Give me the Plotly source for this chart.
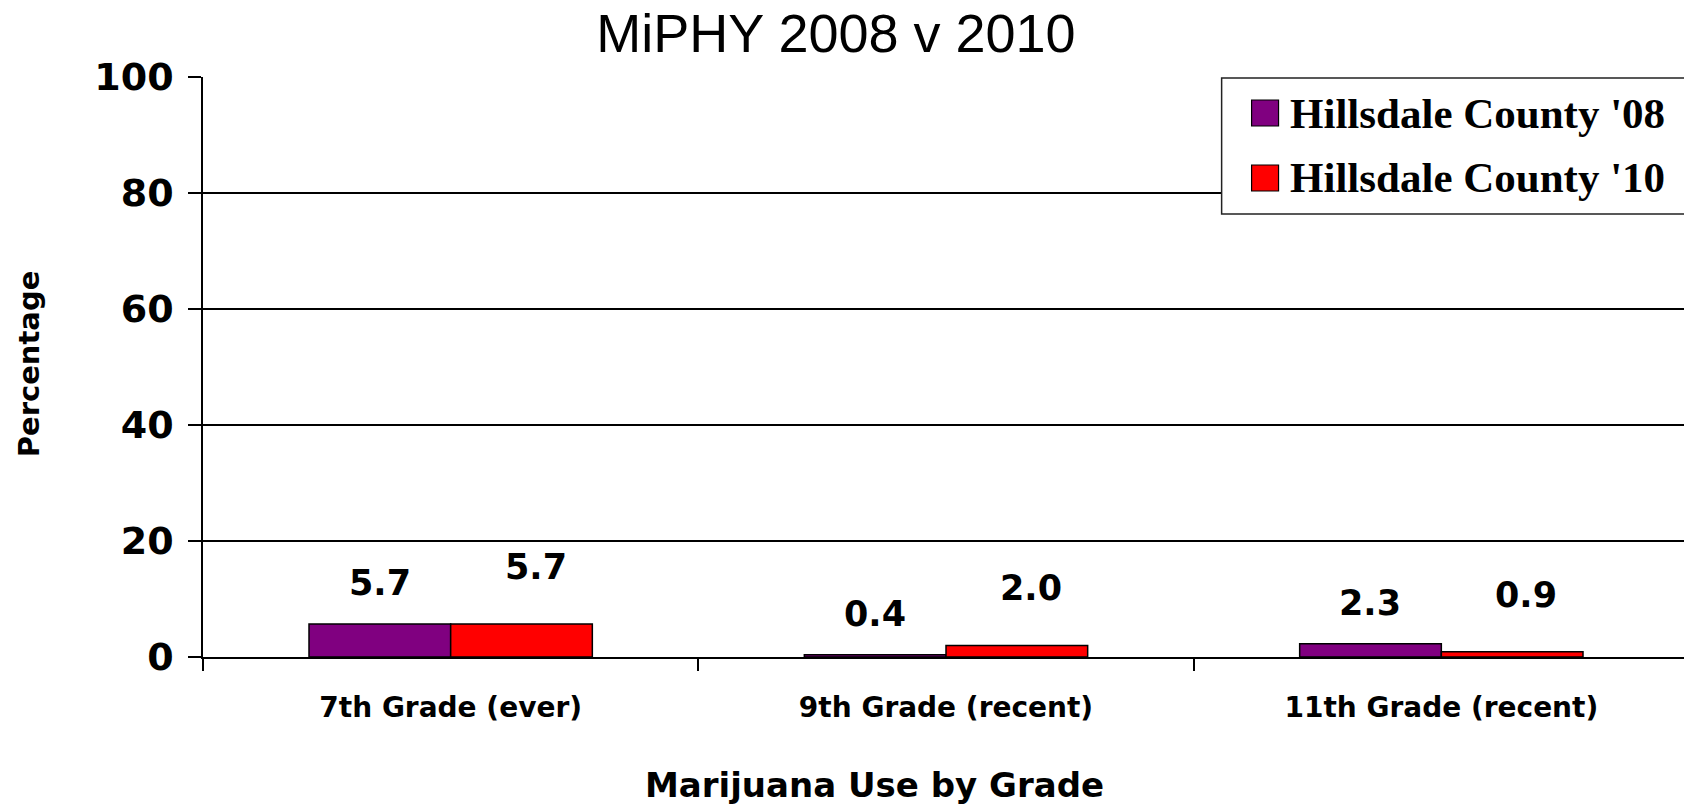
import plotly.graph_objects as go

categories = ["7th Grade (ever)", "9th Grade (recent)", "11th Grade (recent)"]
series_names = ["Hillsdale County '08", "Hillsdale County '10"]
values_08 = [5.7, 0.4, 2.3]
values_10 = [5.7, 2.0, 0.9]
colors = ["#800080", "#FF0000"]
y_ticks = [0, 20, 40, 60, 80, 100]

# page has an 8px body margin; figure fills the rest of the window
OFF = 8
W, H = 1692 - OFF, 805 - OFF
ML = 203 - OFF
MR = W - (1691 - OFF)
MT = 77 - OFF
MB = H - (657 - OFF)
PW = W - ML - MR
PH = H - MT - MB


def fx(p):  # page px -> paper x
    return (p - OFF - ML) / PW


def fy(p):  # page px -> paper y
    return 1 - (p - OFF - MT) / PH


fig = go.Figure()
for name, vals, col in zip(series_names, [values_08, values_10], colors):
    fig.add_trace(go.Bar(
        x=categories, y=vals, name=name,
        marker=dict(color=col, line=dict(color="black", width=1.5)),
        showlegend=False, hoverinfo="x+y",
    ))

BOLD = "DejaVu Sans"
cat_w = PW / 3
bar_w = cat_w * 0.572 / 2

annotations = []
for i, c in enumerate(categories):
    annotations.append(dict(
        x=c, y=values_08[i], xref="x", yref="y", text=f"{values_08[i]:.1f}",
        showarrow=False, xshift=-bar_w / 2, yshift=41, yanchor="middle",
        font=dict(family=BOLD, size=35, color="black", weight="bold")))
    annotations.append(dict(
        x=c, y=values_10[i], xref="x", yref="y", text=f"{values_10[i]:.1f}",
        showarrow=False, xshift=bar_w / 2 + 14, yshift=57, yanchor="middle",
        font=dict(family=BOLD, size=35, color="black", weight="bold")))

# axis titles
annotations.append(dict(
    x=fx(875), y=fy(785), xref="paper", yref="paper",
    text="Marijuana Use by Grade", showarrow=False, xanchor="center", yanchor="middle",
    font=dict(family=BOLD, size=34, color="black", weight="bold")))
annotations.append(dict(
    x=fx(29), y=fy(364), xref="paper", yref="paper",
    text="Percentage", showarrow=False, textangle=-90, xanchor="center", yanchor="middle",
    font=dict(family=BOLD, size=29, color="black", weight="bold")))

# legend box
shapes = [dict(type="rect", xref="paper", yref="paper",
               x0=fx(1223), x1=fx(1687), y0=fy(214), y1=fy(78),
               line=dict(color="#222", width=1.5), fillcolor="white", layer="above")]
row_y = [113, 178]
for name, col, ry in zip(series_names, colors, row_y):
    shapes.append(dict(type="rect", xref="paper", yref="paper",
                       x0=fx(1253), x1=fx(1280), y0=fy(ry + 13), y1=fy(ry - 13),
                       line=dict(color="black", width=1.2), fillcolor=col, layer="above"))
    annotations.append(dict(
        x=fx(1289), y=fy(ry), xref="paper", yref="paper", text=name,
        showarrow=False, xanchor="left", yanchor="middle",
        font=dict(family="Liberation Serif", size=43, color="black", weight="bold")))

fig.update_layout(
    width=W, height=H, autosize=False,
    margin=dict(l=ML, r=MR, t=MT, b=MB),
    paper_bgcolor="white", plot_bgcolor="white",
    barmode="group", bargap=0.428, bargroupgap=0,
    title=dict(text="MiPHY 2008 v 2010", x=(836 - OFF) / W, xanchor="center",
               y=1 - (33 - OFF) / H, yanchor="middle",
               font=dict(family="Liberation Sans", size=54, color="black")),
    xaxis=dict(
        type="category", tickson="boundaries", ticks="outside", ticklen=12,
        tickcolor="black", tickwidth=1.5, showline=True, linecolor="black", linewidth=1.5,
        showgrid=False, ticklabelstandoff=25,
        tickfont=dict(family=BOLD, size=28, color="black", weight="bold"),
    ),
    yaxis=dict(
        range=[0, 100], tickvals=y_ticks, ticks="outside", ticklen=13,
        tickcolor="black", tickwidth=1.5, showline=True, mirror=True,
        linecolor="black", linewidth=1.5,
        showgrid=True, gridcolor="black", gridwidth=1.5, zeroline=False,
        ticklabelstandoff=7,
        tickfont=dict(family=BOLD, size=38, color="black", weight="bold"),
    ),
    annotations=annotations, shapes=shapes,
)

fig.write_html("out.html")
